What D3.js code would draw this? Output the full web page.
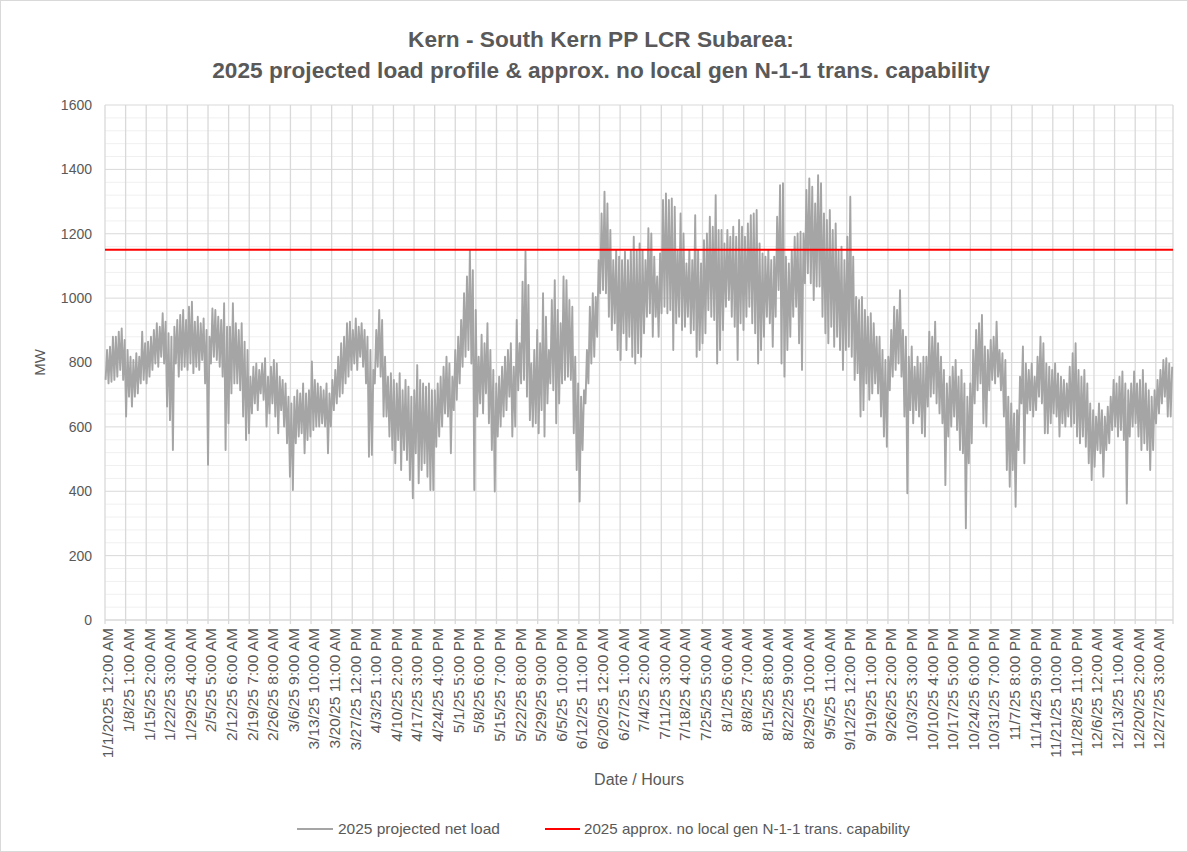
<!DOCTYPE html>
<html>
<head>
<meta charset="utf-8">
<script src="https://cdn.jsdelivr.net/npm/d3@7"></script>
<style>
  body { margin: 0; background: #fff; }
  svg { display: block; }
  text { font-family: "Liberation Sans", Arial, sans-serif; fill: #595959; }
</style>
</head>
<body>
<svg id="chart" width="1188" height="852"></svg>
<script>
// Category labels along the hourly axis (one every 169 hours)
const tickLabels = [
  "1/1/2025 12:00 AM", "1/8/25 1:00 AM", "1/15/25 2:00 AM", "1/22/25 3:00 AM", "1/29/25 4:00 AM",
  "2/5/25 5:00 AM", "2/12/25 6:00 AM", "2/19/25 7:00 AM", "2/26/25 8:00 AM", "3/6/25 9:00 AM",
  "3/13/25 10:00 AM", "3/20/25 11:00 AM", "3/27/25 12:00 PM", "4/3/25 1:00 PM", "4/10/25 2:00 PM",
  "4/17/25 3:00 PM", "4/24/25 4:00 PM", "5/1/25 5:00 PM", "5/8/25 6:00 PM", "5/15/25 7:00 PM",
  "5/22/25 8:00 PM", "5/29/25 9:00 PM", "6/5/25 10:00 PM", "6/12/25 11:00 PM", "6/20/25 12:00 AM",
  "6/27/25 1:00 AM", "7/4/25 2:00 AM", "7/11/25 3:00 AM", "7/18/25 4:00 AM", "7/25/25 5:00 AM",
  "8/1/25 6:00 AM", "8/8/25 7:00 AM", "8/15/25 8:00 AM", "8/22/25 9:00 AM", "8/29/25 10:00 AM",
  "9/5/25 11:00 AM", "9/12/25 12:00 PM", "9/19/25 1:00 PM", "9/26/25 2:00 PM", "10/3/25 3:00 PM",
  "10/10/25 4:00 PM", "10/17/25 5:00 PM", "10/24/25 6:00 PM", "10/31/25 7:00 PM", "11/7/25 8:00 PM",
  "11/14/25 9:00 PM", "11/21/25 10:00 PM", "11/28/25 11:00 PM", "12/6/25 12:00 AM", "12/13/25 1:00 AM",
  "12/20/25 2:00 AM", "12/27/25 3:00 AM"
];

// Daily afternoon peak of the projected net load, MW (one value per day)
const dailyPeak = [
  839, 849, 880, 880, 896, 906, 870,   839, 818, 808, 829, 818, 896, 860,
  865, 880, 901, 922, 911, 953, 927,   891, 880, 911, 932, 948, 963, 932,
  973, 989, 927, 942, 922, 937, 901,   880, 968, 963, 942, 932, 984, 911,
  911, 984, 922, 901, 922, 865, 839,   756, 787, 797, 777, 797, 813, 756,
  787, 808, 797, 756, 746, 735, 694,   673, 694, 714, 704, 735, 704, 714,
  803, 746, 735, 725, 714, 735, 704,   746, 777, 818, 860, 880, 922, 927,
  901, 937, 911, 922, 901, 880, 839,   777, 901, 963, 932, 818, 756, 767,
  746, 735, 767, 714, 746, 725, 694,   714, 792, 746, 735, 725, 735, 714,
  714, 735, 756, 787, 818, 797, 756,   839, 880, 932, 1015, 1067, 1150, 1087,
  963, 818, 886, 860, 922, 839, 777,   735, 756, 787, 818, 839, 860, 787,
  932, 860, 1051, 1145, 1041, 797, 839, 901, 860, 1015, 942, 839, 994, 1056,
  963, 922, 1067, 1056, 994, 973, 818, 735, 694, 714, 839, 973, 1015, 1004,
  1118, 1263, 1331, 1294, 1212, 1118, 1150, 1129, 1118, 1144, 1118, 1150, 1191, 1150,
  1170, 1150, 1118, 1217, 1201, 1129, 1067, 1139, 1305, 1325, 1305, 1310, 1284, 1150,
  1263, 1201, 1108, 1150, 1118, 1258, 1150, 1108, 1180, 1201, 1253, 1222, 1320, 1212,
  1212, 1170, 1212, 1191, 1222, 1191, 1243, 1222, 1191, 1232, 1258, 1263, 1274, 1170,
  1139, 1129, 1150, 1118, 1129, 1253, 1351, 1357, 1129, 1108, 1150, 1191, 1201, 1206,
  1201, 1336, 1372, 1346, 1294, 1382, 1357, 1263, 1243, 1274, 1212, 1232, 1150, 1160,
  1118, 1191, 1315, 1129, 1004, 994, 1004, 963, 942, 953, 922, 880, 880, 839,
  808, 818, 901, 973, 963, 1025, 901,  880, 818, 850, 787, 818, 797, 818,
  818, 896, 880, 927, 860, 818, 777,   735, 756, 787, 808, 756, 777, 735,
  694, 735, 839, 901, 922, 948, 850,   839, 870, 880, 927, 839, 829, 808,
  694, 673, 642, 652, 756, 850, 797,   777, 797, 756, 818, 880, 860, 797,
  787, 777, 797, 766, 756, 746, 735,   787, 829, 860, 777, 756, 777, 735,
  673, 652, 632, 673, 652, 632, 663,   694, 746, 735, 756, 772, 735, 714,
  735, 772, 735, 746, 777, 735, 714,   694, 714, 746, 777, 808, 813, 797, 787
];

// Daily early-morning minimum of the projected net load, MW (one value per day)
const dailyLow = [
  746, 735, 740, 746, 756, 777, 746,   632, 694, 663, 694, 704, 735, 746,
  735, 756, 777, 797, 787, 818, 797,   663, 621, 528, 797, 756, 777, 787,
  777, 797, 767, 787, 777, 808, 735,   482, 797, 818, 808, 787, 756, 528,
  611, 704, 735, 735, 714, 632, 559,   580, 642, 673, 652, 704, 684, 601,
  642, 673, 632, 580, 652, 601, 549,   445, 404, 549, 570, 580, 518, 559,
  570, 590, 601, 601, 611, 601, 518,   601, 652, 673, 694, 704, 735, 756,
  777, 797, 777, 818, 787, 735, 507,   513, 735, 787, 756, 632, 632, 570,
  528, 487, 559, 466, 528, 497, 435,   378, 518, 425, 466, 487, 445, 404,
  404, 538, 570, 601, 642, 632, 518,   652, 684, 735, 787, 818, 839, 797,
  404, 632, 673, 642, 704, 611, 528,   399, 570, 601, 632, 652, 694, 570,
  601, 714, 735, 746, 694, 621, 601,   611, 580, 652, 570, 673, 735, 714,
  611, 673, 735, 746, 756, 746, 580,   466, 368, 528, 673, 735, 797, 818,
  880, 1015, 1025, 1015, 942, 901, 922, 839, 808, 891, 839, 880, 818, 797,
  829, 818, 891, 942, 953, 880, 942,   880, 953, 973, 953, 963, 839, 922,
  942, 901, 911, 942, 891, 901, 818,   839, 860, 891, 963, 942, 932, 797,
  839, 901, 973, 994, 942, 911, 808,   922, 901, 942, 973, 922, 891, 797,
  839, 880, 942, 922, 849, 942, 1025,  797, 756, 839, 880, 942, 973, 860,
  777, 1046, 1077, 1046, 994, 1036, 1036, 942, 891, 860, 911, 849, 880, 839,
  777, 839, 849, 818, 746, 767, 632,   652, 735, 684, 704, 735, 704, 632,
  570, 538, 714, 756, 777, 797, 756,   632, 394, 652, 611, 652, 632, 580,
  570, 663, 694, 704, 673, 642, 611,   419, 570, 601, 632, 590, 528, 518,
  285, 487, 549, 673, 714, 735, 611,   601, 714, 746, 735, 756, 714, 632,
  466, 414, 466, 352, 528, 673, 487,   642, 652, 632, 652, 694, 673, 580,
  580, 611, 642, 632, 570, 611, 601,   632, 601, 611, 570, 549, 570, 538,
  487, 435, 476, 528, 518, 445, 528,   549, 590, 601, 570, 590, 559, 362,
  570, 601, 611, 570, 528, 549, 528,   466, 528, 611, 642, 673, 694, 632, 632
];

// Approximate N-1-1 transmission capability without local generation, MW
const capability = 1150;

const totalHours = 8760;
const labelStep = 169;
const lowHour = 5, peakHour = 17;
const yMax = 1600, yMajor = 200, yMinor = 40;

const svg = d3.select("#chart");
const W = 1188, H = 852;
const plot = { left: 105, right: 1173, top: 105, bottom: 620 };

// outer chart border
svg.append("rect")
  .attr("x", 0.5).attr("y", 0.5).attr("width", W - 1).attr("height", H - 1)
  .attr("fill", "#fff").attr("stroke", "#d9d9d9");

const x = d3.scaleLinear().domain([0, totalHours]).range([plot.left, plot.right]);
const y = d3.scaleLinear().domain([0, yMax]).range([plot.bottom, plot.top]);

// minor horizontal gridlines
svg.append("g").selectAll("line")
  .data(d3.range(yMinor, yMax, yMinor).filter(v => v % yMajor !== 0))
  .join("line")
  .attr("x1", plot.left).attr("x2", plot.right)
  .attr("y1", d => y(d)).attr("y2", d => y(d))
  .attr("stroke", "#f0f0f0").attr("stroke-width", 1);

// major horizontal gridlines
svg.append("g").selectAll("line")
  .data(d3.range(yMajor, yMax + 1, yMajor))
  .join("line")
  .attr("x1", plot.left).attr("x2", plot.right)
  .attr("y1", d => y(d)).attr("y2", d => y(d))
  .attr("stroke", "#d9d9d9").attr("stroke-width", 1);

// vertical gridlines at each labelled hour, plus the right edge
const tickHours = tickLabels.map((_, i) => i * labelStep);
svg.append("g").selectAll("line")
  .data(tickHours.concat([totalHours]))
  .join("line")
  .attr("x1", d => x(d)).attr("x2", d => x(d))
  .attr("y1", plot.top).attr("y2", plot.bottom + 4)
  .attr("stroke", "#d9d9d9").attr("stroke-width", 1.3);

// category axis baseline
svg.append("line")
  .attr("x1", plot.left).attr("x2", plot.right)
  .attr("y1", y(0)).attr("y2", y(0))
  .attr("stroke", "#d9d9d9").attr("stroke-width", 1.3);

// value axis labels
svg.append("g").selectAll("text")
  .data(d3.range(0, yMax + 1, yMajor))
  .join("text")
  .attr("x", 92).attr("y", d => y(d))
  .attr("dy", "0.35em")
  .attr("text-anchor", "end")
  .attr("font-size", 14)
  .text(d => d);

// category axis labels, rotated
svg.append("g").selectAll("text")
  .data(tickLabels)
  .join("text")
  .attr("transform", (d, i) => `translate(${x(i * labelStep) + 3},${plot.bottom + 8}) rotate(-90)`)
  .attr("dy", "0.35em")
  .attr("text-anchor", "end")
  .attr("font-size", 15.5)
  .text(d => d);

// projected net load: daily minimum and peak in hourly position
const loadPoints = dailyLow.flatMap((lo, i) => [
  { h: i * 24 + lowHour, v: lo },
  { h: i * 24 + peakHour, v: dailyPeak[i] }
]);
const line = d3.line().x(d => x(d.h)).y(d => y(d.v));
svg.append("path")
  .datum(loadPoints)
  .attr("d", line)
  .attr("fill", "none")
  .attr("stroke", "#a5a5a5")
  .attr("stroke-width", 1.9)
  .attr("stroke-linejoin", "round");

// transmission capability line
svg.append("line")
  .attr("x1", x(0)).attr("x2", x(totalHours))
  .attr("y1", y(capability)).attr("y2", y(capability))
  .attr("stroke", "#ff0000").attr("stroke-width", 2);

// fit a text element's font size to a given width
function fitWidth(sel, width) {
  const w = sel.node().getComputedTextLength();
  const fs = parseFloat(sel.attr("font-size"));
  sel.attr("font-size", fs * width / w);
  return sel;
}

// title
const t2 = svg.append("text")
  .attr("x", 601).attr("y", 78)
  .attr("text-anchor", "middle")
  .attr("font-size", 20).attr("font-weight", "bold")
  .text("2025 projected load profile & approx. no local gen N-1-1 trans. capability");
fitWidth(t2, 778);
svg.append("text")
  .attr("x", 601).attr("y", 47)
  .attr("text-anchor", "middle")
  .attr("font-size", t2.attr("font-size")).attr("font-weight", "bold")
  .text("Kern - South Kern PP LCR Subarea:");

// axis titles
svg.append("text")
  .attr("transform", `translate(45,${(plot.top + plot.bottom) / 2}) rotate(-90)`)
  .attr("text-anchor", "middle")
  .attr("font-size", 15)
  .text("MW");
svg.append("text")
  .attr("x", (plot.left + plot.right) / 2).attr("y", 785)
  .attr("text-anchor", "middle")
  .attr("font-size", 16)
  .text("Date / Hours");

// legend
const legendY = 829;
svg.append("line").attr("x1", 297).attr("x2", 333).attr("y1", legendY).attr("y2", legendY)
  .attr("stroke", "#a5a5a5").attr("stroke-width", 2);
fitWidth(svg.append("text").attr("x", 338).attr("y", legendY + 5).attr("font-size", 13)
  .text("2025 projected net load"), 162);
svg.append("line").attr("x1", 545).attr("x2", 580).attr("y1", legendY).attr("y2", legendY)
  .attr("stroke", "#ff0000").attr("stroke-width", 2);
fitWidth(svg.append("text").attr("x", 584).attr("y", legendY + 5).attr("font-size", 13)
  .text("2025 approx. no local gen N-1-1 trans. capability"), 326);
</script>
</body>
</html>
